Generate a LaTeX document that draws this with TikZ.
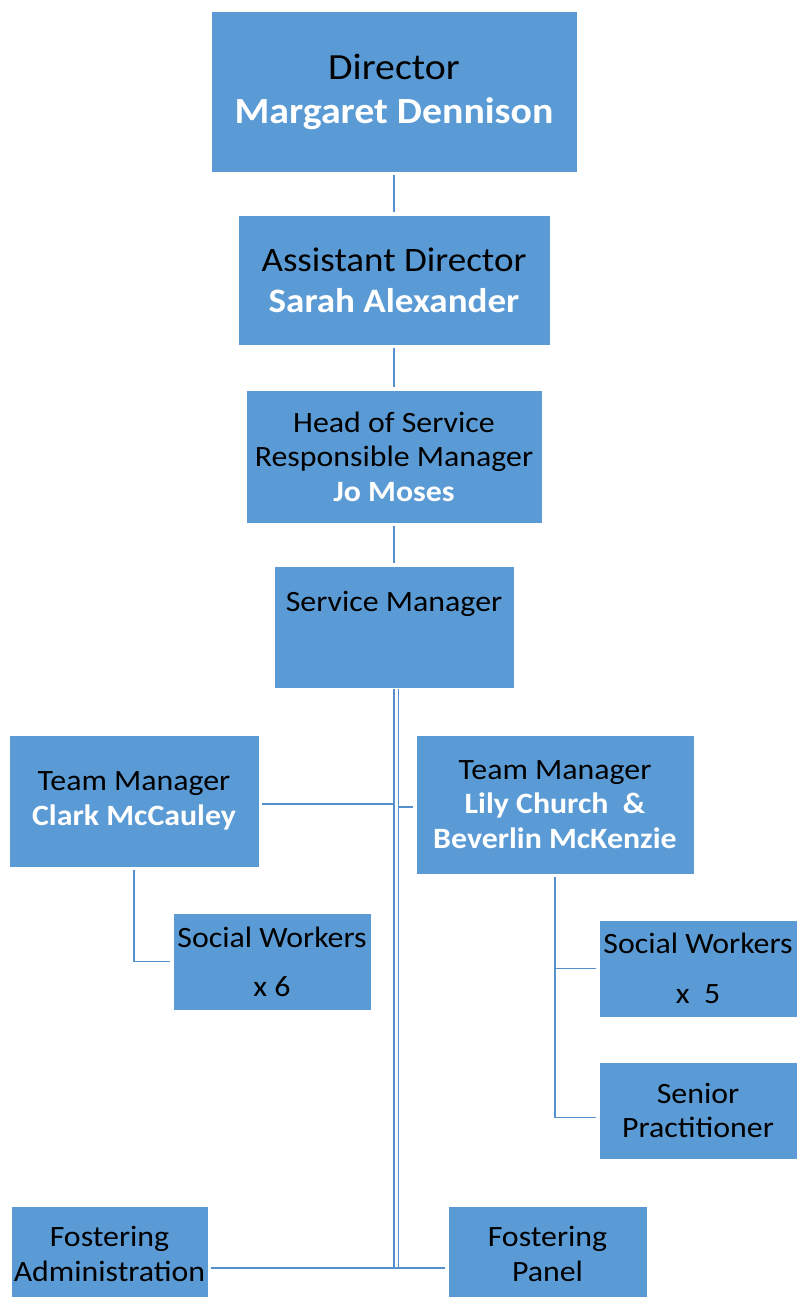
\documentclass[tikz,border=0pt]{standalone}
\usepackage{fontspec}
\setmainfont{Carlito}[FakeStretch=1.08]
\definecolor{boxblue}{HTML}{5B9BD5}
\definecolor{linkblue}{HTML}{5590CC}
\newcommand{\who}[1]{\textcolor{white}{\bfseries #1}}
\begin{document}
\begin{tikzpicture}[x=1pt,y=-1pt,
  unit/.style={rectangle, fill=boxblue, draw=white, line width=0.8pt,
    align=center, inner sep=0pt, text=black},
  txtL/.style={font=\fontsize{36.9}{44}\selectfont},
  txtM/.style={font=\fontsize{34.3}{41}\selectfont},
  txtS/.style={font=\fontsize{29.5}{34.5}\selectfont},
  link/.style={draw=linkblue, line width=1.8pt, shorten <=3pt, shorten >=3pt},
  bus/.style={draw=linkblue, line width=1.4pt, double=white, double distance=3pt}]
\useasboundingbox (0,0) rectangle (797,1297);

% management chain
\node[unit, txtL, minimum width=366pt, minimum height=161pt] (dir) at (394,91.5)
  {Director\\\who{Margaret Dennison}};
\node[unit, txtM, minimum width=312pt, minimum height=130pt] (ad) at (394,280)
  {Assistant Director\\\who{Sarah Alexander}};
\node[unit, txtS, minimum width=296pt, minimum height=133pt] (hos) at (394,456.5)
  {Head of Service\\Responsible Manager\\\who{Jo Moses}};
\node[unit, txtS, minimum width=240pt, minimum height=122pt] (sm) at (394,627)
  {\raisebox{16pt}[0pt][0pt]{Service Manager}};

% teams
\node[unit, txtS, minimum width=250pt, minimum height=132pt] (tml) at (134,801)
  {Team Manager\\\who{Clark McCauley}};
\node[unit, txtS, minimum width=278pt, minimum height=139pt] (tmr) at (555,804.5)
  {Team Manager\\\who{Lily Church\ \ \&}\\\who{Beverlin McKenzie}};
\node[unit, font=\fontsize{29.5}{49}\selectfont, minimum width=198pt, minimum height=97pt] (sw6) at (272,961.5)
  {Social Workers\\x 6};
\node[unit, font=\fontsize{29.5}{50}\selectfont, minimum width=198pt, minimum height=97pt] (sw5) at (698,968.5)
  {Social Workers\\x\ \ 5};
\node[unit, txtS, minimum width=198pt, minimum height=97pt] (sp) at (698,1110.5)
  {Senior\\Practitioner};

% fostering
\node[unit, txtS, minimum width=197pt, minimum height=96pt] (fa) at (109.5,1254)
  {Fostering\\Administration};
\node[unit, txtS, minimum width=199pt, minimum height=96pt] (fp) at (547.5,1254)
  {Fostering\\Panel};

\coordinate (bustop) at (396,689);
\coordinate (busbot) at (396,1268);

% connectors
\draw[link] (dir) -- (ad);
\draw[link] (ad) -- (hos);
\draw[link] (hos) -- (sm);
\draw[bus] (bustop) -- (busbot);
\draw[link, shorten >=0pt] ([yshift=-3pt]tml.east) -- ([yshift=-3pt,xshift=-2pt]tml.east -| bustop);
\draw[link, shorten <=0pt] ([yshift=-2.5pt,xshift=2pt]tmr.west -| bustop) -- ([yshift=-2.5pt]tmr.west);
\draw[link] (fa.east |- busbot) -- (fp.west |- busbot);
\draw[link] (tml.south) |- (sw6.west);
\draw[link] (tmr.south) |- (sw5.west);
\draw[link] (tmr.south) |- ([yshift=-7pt]sp.west);
\end{tikzpicture}
\end{document}
